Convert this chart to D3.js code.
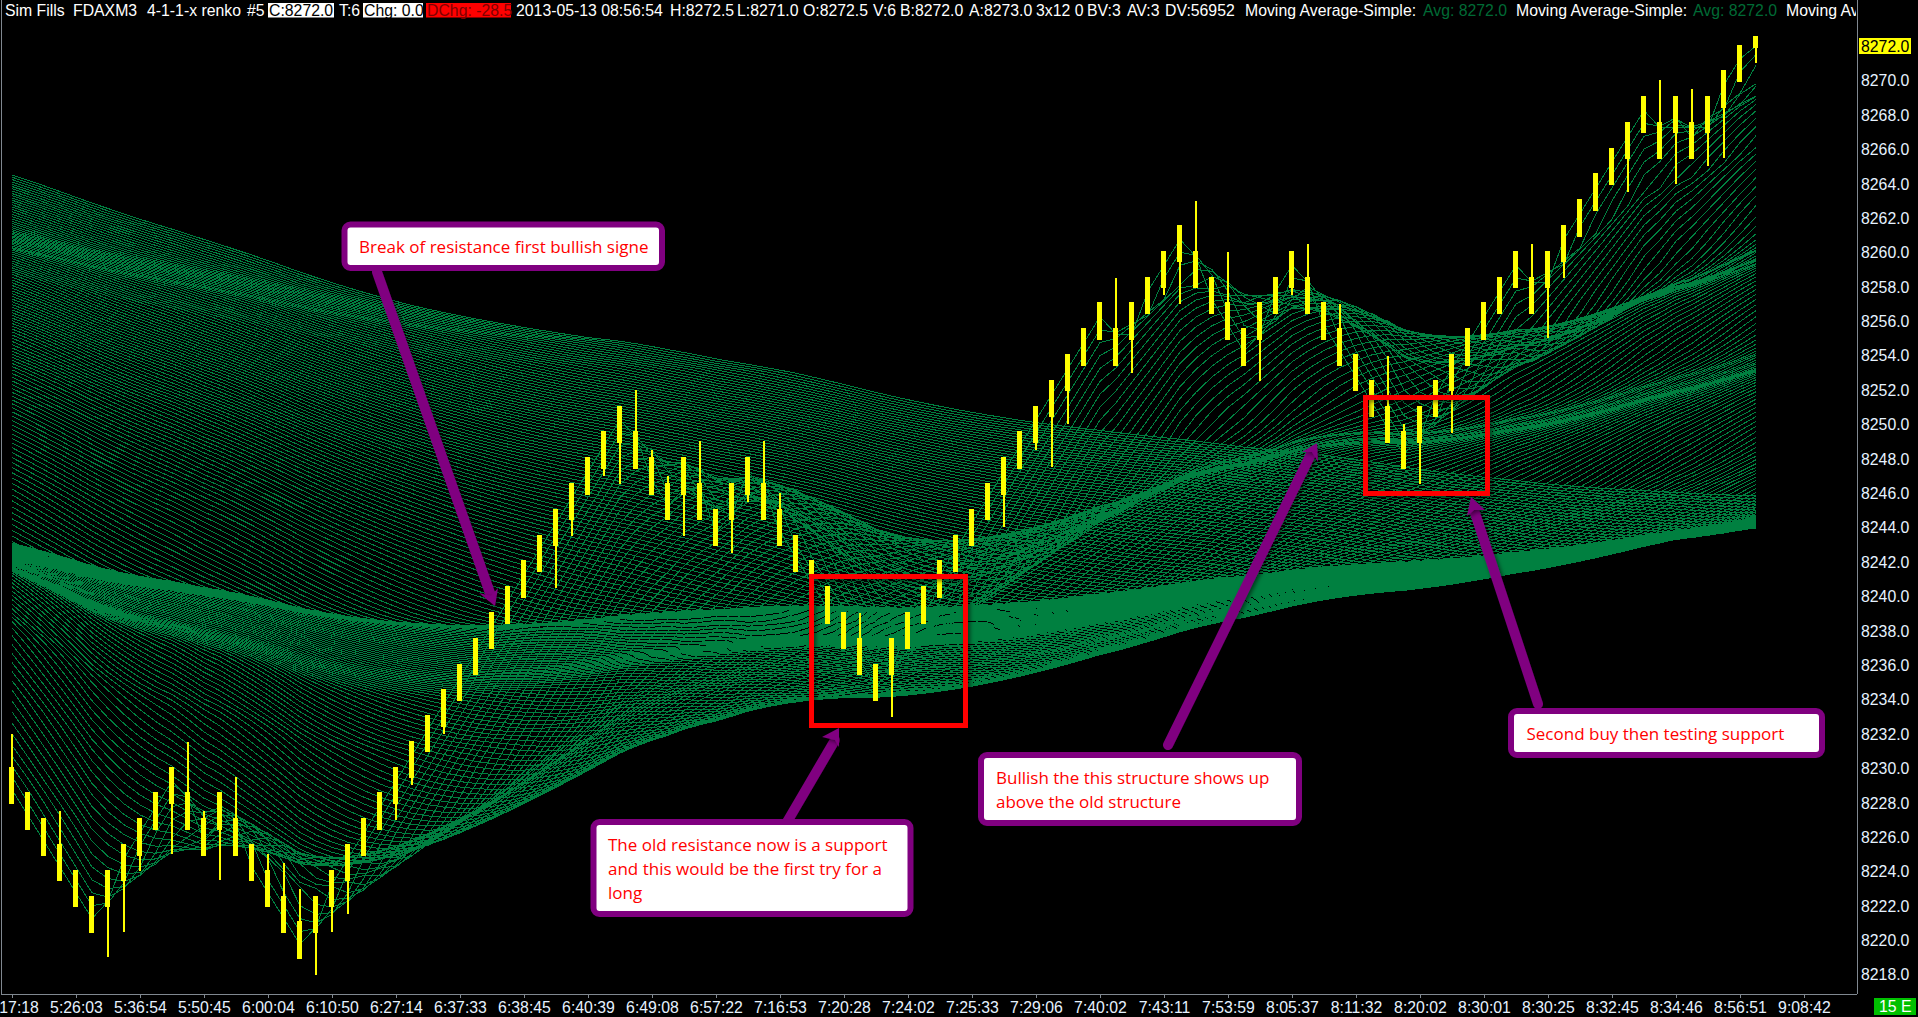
<!DOCTYPE html>
<html><head><meta charset="utf-8">
<script src="https://cdn.jsdelivr.net/npm/d3@7"></script>
<style>
html,body{margin:0;padding:0;background:#000;overflow:hidden}
svg{display:block}
.nar{font-family:"Liberation Sans",Arial,sans-serif}
.note{font-family:"Open Sans","Noto Sans",sans-serif;fill:#ff0000}
</style></head><body>
<svg id="c" width="1918" height="1017" xmlns="http://www.w3.org/2000/svg"></svg>
<script>
// Candle values (renko bars, oldest first).
const opens=[8230,8228.5,8227,8225.5,8224,8222.5,8222,8223.5,8225,8226.5,8228,8228.5,8227,8226.5,8227,8225.5,8224,8222.5,8221,8220.5,8222,8223.5,8225,8226.5,8228,8229.5,8231,8232.5,8234,8235.5,8237,8238.5,8240,8241.5,8243,8244.5,8246,8247.5,8249,8249.5,8248,8246.5,8246,8246.5,8245,8244.5,8246,8246.5,8245,8243.5,8242,8240.5,8239,8237.5,8236,8235.5,8237,8238.5,8240,8241.5,8243,8244.5,8246,8247.5,8249,8250.5,8252,8253.5,8255,8255.5,8255,8256.5,8258,8259.5,8260,8258.5,8257,8255.5,8255,8256.5,8258,8258.5,8257,8255.5,8254,8252.5,8251,8249.5,8249,8250.5,8252,8253.5,8255,8256.5,8258,8258.5,8258,8259.5,8261,8262.5,8264,8265.5,8267,8267.5,8267,8267.5,8267,8268.5,8270,8272.5];
const closes=[8228,8226.5,8225,8223.5,8222,8220.5,8224,8225.5,8227,8228.5,8230,8226.5,8225,8228.5,8225,8223.5,8222,8220.5,8219,8222.5,8224,8225.5,8227,8228.5,8230,8231.5,8233,8234.5,8236,8237.5,8239,8240.5,8242,8243.5,8245,8246.5,8248,8249.5,8251,8247.5,8246,8244.5,8248,8244.5,8243,8246.5,8248,8244.5,8243,8241.5,8240,8238.5,8237,8235.5,8234,8237.5,8239,8240.5,8242,8243.5,8245,8246.5,8248,8249.5,8251,8252.5,8254,8255.5,8257,8253.5,8257,8258.5,8260,8261.5,8258,8256.5,8255,8253.5,8257,8258.5,8260,8256.5,8255,8253.5,8252,8250.5,8249,8247.5,8251,8252.5,8254,8255.5,8257,8258.5,8260,8256.5,8260,8261.5,8263,8264.5,8266,8267.5,8269,8265.5,8269,8265.5,8269,8270.5,8272,8272];
// Wick extremes where they extend past the body; null = no wick on that side.
const highs=[8232,null,null,8227.5,null,null,null,null,null,null,null,8231.5,8227.5,null,8229.5,null,8225,8224.5,8223,null,null,null,null,null,null,null,null,null,null,null,null,null,null,null,null,null,null,null,null,8252,8248.5,8247,null,8249,null,null,null,8249,8246,null,null,null,null,8239,null,null,null,null,null,null,null,null,null,null,null,null,null,null,null,8258.5,null,null,null,null,8263,null,8260,null,null,null,null,8260.5,null,8257,null,null,8254,8250,null,null,null,null,null,null,null,8260.5,null,null,null,null,null,null,null,8270,null,8269.5,null,null,null,null];
const lows=[null,null,null,null,null,null,8219,8220.5,8224,null,8225,null,null,8223.5,null,null,null,null,null,8218,8220.5,8221.5,null,null,8227,8229,null,8232,null,null,null,null,null,null,8240.5,8243.5,null,8247,8246.5,null,null,null,8243.5,null,null,8242.5,8245.5,null,null,null,null,null,null,null,null,8233,null,null,null,null,null,null,8244,null,8248.5,8247.5,8250,null,null,null,8253,null,8257.5,8257,null,null,null,null,8252.5,null,8257.5,null,null,null,null,null,null,null,8246.5,null,8249.5,null,null,null,null,null,8255,8258.5,null,null,null,8263.5,null,null,8264,null,8265,8265.5,null,8271];
// Closes before the first visible bar. These bars are off-chart: estimated so the moving
// averages start at the levels seen in the left column of the ribbon (oldest first).
const priorCloses=[8291,8292,8293,8292,8291,8290,8291,8292,8290,8289,8288,8289,8290,8289,8288,8289,8290,8289,
8288,8287,8286,8285,8284,8283,8282,
8277,8276,8276,8275,8275,8275,8275,8276,8276,8277,8277,
8271,8274,8278,8280,8282,8283,8283,8282,8281,8280,8279,8279,8279,
8285,8284,8284,8283,8283,8282,8282,8282,8281,8281,
8281,8280,8280,8280,8279,8279,8279,8278,8278,8279,
8279,8280,8280,8281,8281,8280,8279,8278,8277,8277,
8277,8277,8278,8279,8280,8280,8280,8279,8279,8278,
8278,8278,8278,8279,8279,8280,8280,8279,8279,8278,
8278,8278,8279,8279,8279,8278,8278,8278,8279,8279,
8280.5,8279.5,8279.5,8278.5,8277.5,8276.5,8275.5,8274.5,8272.5,8270.5,8266.5,8262.5,8257.5,8252.5,
8238,8237.5,8237.5,8237,8237,8237.5,8237.5,8238,8237.5,8237.5,8237,8237.5,8237.5,8238,8237.5,
8242,8243,8244,8245,8245.5,8246,8246.5,8247,8247,8247,8246.5,8246,8246,8245.5,8246,8246.5,8246.5,8246,8245.5,8245.5,8245,8245,8244.5,8244.5,8245,8245,8244.5,
8243,8242.5,8242,8242,8241.5,8241.5,8241.5,8242,8242,8242,8241.5,
8243,8244.5,8246,8247,8247,8247,8247,8246.5,8246,8246,8245.5,8245,
8243,8244,8245,8246,8246,8245,8244,8243,8242,8241,8241,
8239.5,8238.5,8237,8236,8234.5,8233,8232,8231,8229.5];
// Ribbon: one simple moving average of the closes per period, as the chart's own study does.
const periods=d3.range(2,210);
const timeLabels=["5:17:18","5:26:03","5:36:54","5:50:45","6:00:04","6:10:50","6:27:14","6:37:33","6:38:45","6:40:39","6:49:08","6:57:22","7:16:53","7:20:28","7:24:02","7:25:33","7:29:06","7:40:02","7:43:11","7:53:59","8:05:37","8:11:32","8:20:02","8:30:01","8:30:25","8:32:45","8:34:46","8:56:51","9:08:42"];
const priceTicks=d3.range(8218,8271,2);
const lastPrice=8272;

const svg=d3.select("#c");
const x=d3.scaleLinear().domain([0,109]).range([12,1756]);
const y=d3.scaleLinear().domain([8218,8272]).range([974.5,46]);
const GREEN="#008040", PURPLE="#800080";

const defs=svg.append("defs");
const f=defs.append("filter").attr("id","sh").attr("x","-20%").attr("y","-20%").attr("width","140%").attr("height","140%");
f.append("feDropShadow").attr("dx",2).attr("dy",2).attr("stdDeviation",2).attr("flood-color","#000").attr("flood-opacity",.55);

// ribbon
const series=closes.map((c,i)=>i);
const all=priorCloses.concat(closes), off=priorCloses.length;
const line=d3.line().x(d=>x(d.i)).y(d=>y(d.v));
const gR=svg.append("g").attr("fill","none").attr("stroke",GREEN).attr("stroke-width",1).attr("shape-rendering","crispEdges");
periods.forEach(p=>{
  const pts=series.map(i=>({i,v:d3.mean(all.slice(i+off-p+1,i+off+1))}));
  gR.append("path").attr("d",line(pts));
});

// candles
const gC=svg.append("g").attr("fill","#ffff00").attr("shape-rendering","crispEdges");
series.forEach(i=>{
  const top=Math.max(opens[i],closes[i]), bot=Math.min(opens[i],closes[i]);
  const hi=highs[i]===null?top:highs[i], lo=lows[i]===null?bot:lows[i];
  const cx=Math.round(x(i));
  gC.append("rect").attr("x",cx-1).attr("width",2).attr("y",y(hi)).attr("height",y(lo)-y(hi));
  gC.append("rect").attr("x",cx-3).attr("width",5).attr("y",y(top)-1.5).attr("height",y(bot)-y(top)+3);
});

// frame
svg.append("g").attr("stroke","#808890").attr("shape-rendering","crispEdges").call(g=>{
  g.append("line").attr("x1",1).attr("x2",1).attr("y1",0).attr("y2",994);
  g.append("line").attr("x1",1857).attr("x2",1857).attr("y1",0).attr("y2",994);
  g.append("line").attr("x1",1).attr("x2",1857).attr("y1",994).attr("y2",994);
});

// axes
const fs=17, tc="#e6f2ff";
const ax=svg.append("g").attr("class","nar").attr("transform","translate(0,994)")
 .call(d3.axisBottom(x).tickValues(timeLabels.map((d,i)=>i*4)).tickFormat((d,i)=>timeLabels[i]).tickSize(4).tickPadding(3));
ax.select(".domain").remove();
ax.selectAll(".tick line").attr("stroke","#808890").attr("shape-rendering","crispEdges");
ax.selectAll(".tick text").attr("fill",tc).attr("font-size",fs).attr("font-family",null);
const ay=svg.append("g").attr("class","nar").attr("transform","translate(1857,0)")
 .call(d3.axisRight(y).tickValues(priceTicks).tickFormat(d3.format(".1f")).tickSize(0).tickPadding(4));
ay.select(".domain").remove();
ay.selectAll(".tick text").attr("fill",tc).attr("font-size",fs).attr("font-family",null);
svg.append("rect").attr("x",1859).attr("y",38).attr("width",52).attr("height",16).attr("fill","#ffff00");
svg.append("text").attr("class","nar").attr("x",1861).attr("y",y(lastPrice)).attr("dy","0.34em").attr("font-size",fs).attr("fill","#000").text(lastPrice.toFixed(1));
svg.append("rect").attr("x",1874).attr("y",998).attr("width",42).attr("height",17).attr("fill","#00c000");
svg.append("text").attr("class","nar").attr("x",1879).attr("y",1012).attr("font-size",fs).attr("fill","#fff").text("15 E");

// header
const hdrFill=[[268,66,"#fff"],[363,60,"#fff"],[426,85,"#f00"]];
hdrFill.forEach(b=>svg.append("rect").attr("x",b[0]).attr("y",3).attr("width",b[1]).attr("height",14.5).attr("fill",b[2]));
const hdr=[["Sim Fills",5,"#fff"],["FDAXM3",73,"#fff"],["4-1-1-x renko",147,"#fff"],["#5",247,"#fff"],["C:8272.0",269,"#000"],["T:6",339,"#fff"],["Chg: 0.0",364,"#000"],["DChg: -28.5",427,"#800000"],["2013-05-13 08:56:54",516,"#fff"],["H:8272.5",670,"#fff"],["L:8271.0",737,"#fff"],["O:8272.5",803,"#fff"],["V:6",873,"#fff"],["B:8272.0",900,"#fff"],["A:8273.0",969,"#fff"],["3x12 0",1036,"#fff"],["BV:3",1087,"#fff"],["AV:3",1127,"#fff"],["DV:56952",1165,"#fff"],["Moving Average-Simple:",1245,"#fff"],["Avg: 8272.0",1423,"#006a35"],["Moving Average-Simple:",1516,"#fff"],["Avg: 8272.0",1693,"#006a35"],["Moving Average-Simple:",1786,"#fff"]];
defs.append("clipPath").attr("id","hc").append("rect").attr("x",0).attr("y",0).attr("width",1856).attr("height",40);
const gH=svg.append("g").attr("clip-path","url(#hc)").attr("class","nar");
hdr.forEach(h=>gH.append("text").attr("x",h[1]).attr("y",15.5).attr("font-size",fs).attr("fill",h[2]).text(h[0]));

// condense the platform's narrow UI font
svg.selectAll("text.nar, .nar text").each(function(){
  d3.select(this).attr("textLength",this.getComputedTextLength()*0.93).attr("lengthAdjust","spacingAndGlyphs");
});

// annotations (screen-space overlay, painted over the chart in the original)
const gA=svg.append("g");
const reds=[[811.5,576.5,154,148.5],[1365.5,397,121.5,96.7]];
reds.forEach(r=>gA.append("rect").attr("x",r[0]).attr("y",r[1]).attr("width",r[2]).attr("height",r[3]).attr("fill","none").attr("stroke","#f00").attr("stroke-width",5).attr("filter","url(#sh)").attr("shape-rendering","crispEdges"));
// [tail x,y, neck x,y, barb1 x,y, barb2 x,y]
const arrows=[[377,272,491,596,479,593,498,588],[787,822,835,740,822,737,839,747],[1168,745,1312,452,1302,452,1318,462],[1538,704,1474,510,1467,516,1485,510]];
const tips=[[495,606],[839,728],[1317,443],[1471,497]];
arrows.forEach((a,i)=>{
  gA.append("line").attr("x1",a[0]).attr("y1",a[1]).attr("x2",a[2]).attr("y2",a[3]).attr("stroke",PURPLE).attr("stroke-width",10).attr("stroke-linecap","round").attr("filter","url(#sh)");
  gA.append("path").attr("d",`M${tips[i][0]},${tips[i][1]}L${a[4]},${a[5]}L${a[2]},${a[3]}L${a[6]},${a[7]}Z`).attr("fill",PURPLE).attr("filter","url(#sh)");
});
const boxes=[[344.5,224.5,317.5,43.5],[593.5,822,317,92],[981,755,318,68],[1511,711,311,44]];
boxes.forEach(b=>gA.append("rect").attr("x",b[0]).attr("y",b[1]).attr("width",b[2]).attr("height",b[3]).attr("rx",6).attr("fill","#fff").attr("stroke",PURPLE).attr("stroke-width",6));
const notes=[["Break of resistance first bullish signe",359,247],["The old resistance now is a support",608,845],["and this would be the first try for a",608,869],["long",608,893],["Bullish the this structure shows up",996,778],["above the old structure",996,802],["Second buy then testing support",1526.5,734]];
notes.forEach(n=>gA.append("text").attr("class","note").attr("x",n[1]).attr("y",n[2]).attr("dy","0.35em").attr("font-size",17).text(n[0]));
</script>
</body></html>
